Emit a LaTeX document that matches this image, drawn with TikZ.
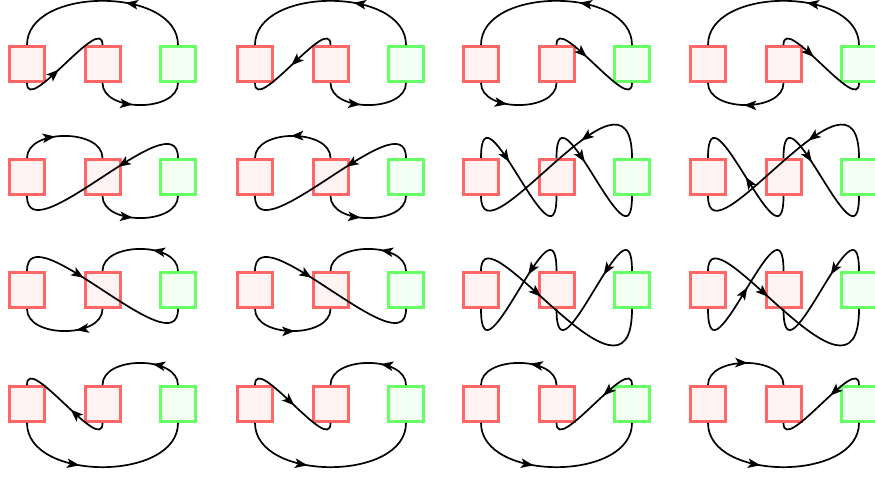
\documentclass[tikz,border=0pt]{standalone}
\usetikzlibrary{arrows.meta,decorations.markings}
\definecolor{rb}{RGB}{255,102,102}
\definecolor{rf}{RGB}{255,242,242}
\definecolor{gb}{RGB}{102,255,102}
\definecolor{gf}{RGB}{242,255,242}
\begin{document}
\begin{tikzpicture}[x=1pt,y=1pt,
  box/.style={rectangle,minimum size=35pt,inner sep=0pt,line width=3pt},
  rbox/.style={box,draw=rb,fill=rf},
  gbox/.style={box,draw=gb,fill=gf},
  arr/.style={line width=1.7pt,postaction={decorate},decoration={markings,mark=at position #1 with {\arrow{Stealth[length=12.5pt,width=9.5pt,inset=3pt]}}}}]
\useasboundingbox (0,0) rectangle (875,479);
\foreach \r/\y in {1/415,2/302,3/189,4/75}{
  \foreach \c/\x in {1/27,2/255,3/481,4/708}{
    \node[rbox] (a\r\c) at (\x,\y) {};
    \node[rbox] (b\r\c) at (\x+75.5,\y) {};
    \node[gbox] (c\r\c) at (\x+151,\y) {};
  }}
% row 1
\draw[arr=0.38] (c11.north) to[out=90,in=90] (a11.north);
\draw[arr=0.42] (a11.south) to[out=-90,in=90] (b11.north);
\draw[arr=0.42] (b11.south) to[out=-90,in=-90] (c11.south);
\draw[arr=0.38] (c12.north) to[out=90,in=90] (a12.north);
\draw[arr=0.52] (b12.north) to[out=90,in=-90] (a12.south);
\draw[arr=0.42] (b12.south) to[out=-90,in=-90] (c12.south);
\draw[arr=0.38] (c13.north) to[out=90,in=90] (a13.north);
\draw[arr=0.38] (a13.south) to[out=-90,in=-90] (b13.south);
\draw[arr=0.4] (b13.north) to[out=90,in=-90] (c13.south);
\draw[arr=0.38] (c14.north) to[out=90,in=90] (a14.north);
\draw[arr=0.52] (b14.south) to[out=-90,in=-90] (a14.south);
\draw[arr=0.4] (b14.north) to[out=90,in=-90] (c14.south);
% row 2
\draw[arr=0.4] (a21.north) to[out=90,in=90] (b21.north);
\draw[arr=0.4] (c21.north) to[out=90,in=-90] (a21.south);
\draw[arr=0.42] (b21.south) to[out=-90,in=-90] (c21.south);
\draw[arr=0.52] (b22.north) to[out=90,in=90] (a22.north);
\draw[arr=0.4] (c22.north) to[out=90,in=-90] (a22.south);
\draw[arr=0.42] (b22.south) to[out=-90,in=-90] (c22.south);
\draw[arr=0.38] (a23.north) to[out=90,in=-90,looseness=2.5] (b23.south);
\draw[arr=0.38] (b23.north) to[out=90,in=-90,looseness=2.5] (c23.south);
\draw[arr=0.37] (c23.north) to[out=90,in=-90,out looseness=1.9,in looseness=1.2] (a23.south);
\draw[arr=0.5] (b24.south) to[out=-90,in=90,looseness=2.5] (a24.north);
\draw[arr=0.38] (b24.north) to[out=90,in=-90,looseness=2.5] (c24.south);
\draw[arr=0.37] (c24.north) to[out=90,in=-90,out looseness=1.9,in looseness=1.2] (a24.south);
% row 3
\draw[arr=0.38] (a31.north) to[out=90,in=-90] (c31.south);
\draw[arr=0.37] (c31.north) to[out=90,in=90] (b31.north);
\draw[arr=0.38] (b31.south) to[out=-90,in=-90] (a31.south);
\draw[arr=0.38] (a32.north) to[out=90,in=-90] (c32.south);
\draw[arr=0.37] (c32.north) to[out=90,in=90] (b32.north);
\draw[arr=0.52] (a32.south) to[out=-90,in=-90] (b32.south);
\draw[arr=0.38] (a33.north) to[out=90,in=-90,out looseness=1.1,in looseness=2.0] (c33.south);
\draw[arr=0.38] (b33.north) to[out=90,in=-90,looseness=2.6] (a33.south);
\draw[arr=0.38] (c33.north) to[out=90,in=-90,looseness=2.6] (b33.south);
\draw[arr=0.38] (a34.north) to[out=90,in=-90,out looseness=1.1,in looseness=2.0] (c34.south);
\draw[arr=0.52] (a34.south) to[out=-90,in=90,looseness=2.6] (b34.north);
\draw[arr=0.38] (c34.north) to[out=90,in=-90,looseness=2.6] (b34.south);
% row 4
\draw[arr=0.42] (b41.south) to[out=-90,in=90] (a41.north);
\draw[arr=0.37] (c41.north) to[out=90,in=90] (b41.north);
\draw[arr=0.38] (a41.south) to[out=-90,in=-90] (c41.south);
\draw[arr=0.52] (a42.north) to[out=90,in=-90] (b42.south);
\draw[arr=0.37] (c42.north) to[out=90,in=90] (b42.north);
\draw[arr=0.38] (a42.south) to[out=-90,in=-90] (c42.south);
\draw[arr=0.38] (b43.north) to[out=90,in=90] (a43.north);
\draw[arr=0.38] (c43.north) to[out=90,in=-90] (b43.south);
\draw[arr=0.38] (a43.south) to[out=-90,in=-90] (c43.south);
\draw[arr=0.52] (a44.north) to[out=90,in=90] (b44.north);
\draw[arr=0.38] (c44.north) to[out=90,in=-90] (b44.south);
\draw[arr=0.38] (a44.south) to[out=-90,in=-90] (c44.south);
\end{tikzpicture}
\end{document}
